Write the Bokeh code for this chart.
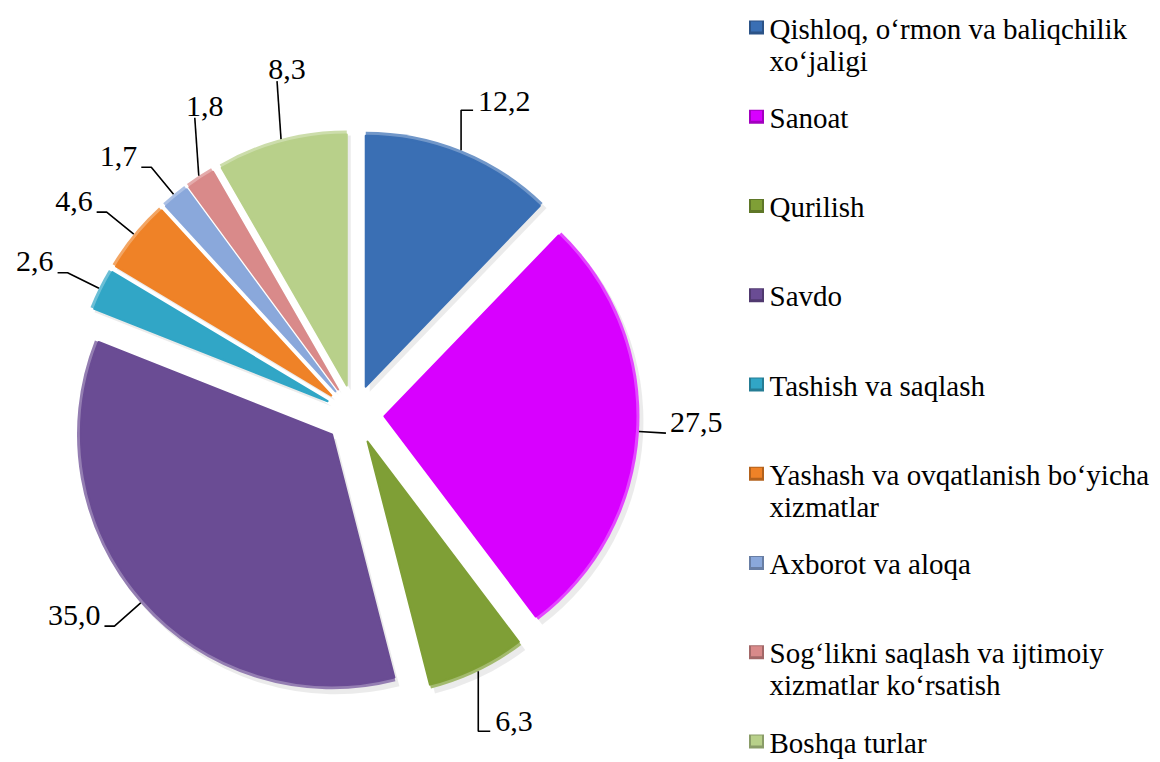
import math
from bokeh.plotting import figure
from bokeh.models import Range1d, ColumnDataSource
from bokeh.core.properties import value
from bokeh.embed import file_html
from bokeh.resources import INLINE

# ---- data ----
categories = [
    "Qishloq, o‘rmon va baliqchilik xo‘jaligi",
    "Sanoat",
    "Qurilish",
    "Savdo",
    "Tashish va saqlash",
    "Yashash va ovqatlanish bo‘yicha xizmatlar",
    "Axborot va aloqa",
    "Sog‘likni saqlash va ijtimoiy xizmatlar ko‘rsatish",
    "Boshqa turlar",
]
legend_lines = [
    ["Qishloq, o‘rmon va baliqchilik", "xo‘jaligi"],
    ["Sanoat"],
    ["Qurilish"],
    ["Savdo"],
    ["Tashish va saqlash"],
    ["Yashash va ovqatlanish bo‘yicha", "xizmatlar"],
    ["Axborot va aloqa"],
    ["Sog‘likni saqlash va ijtimoiy", "xizmatlar ko‘rsatish"],
    ["Boshqa turlar"],
]
values = [12.2, 27.5, 6.3, 35.0, 2.6, 4.6, 1.7, 1.8, 8.3]
colors = ["#3A6FB4", "#D800FF", "#7F9F36", "#6A4C94", "#31A6C6",
          "#EF8227", "#8AA8DB", "#D98A8A", "#B8D08A"]

# ---- layout (pixel space of the page) ----
W, H = 1160, 762
CX, CY = 354, 414
R = 255
EXPLODE = 30
FONT = "Liberation Serif"


def Y(py):
    return H - py


def mix(c, other, t):
    c = c.lstrip("#"); o = other.lstrip("#")
    a = [int(c[i:i + 2], 16) for i in (0, 2, 4)]
    b = [int(o[i:i + 2], 16) for i in (0, 2, 4)]
    return "#" + "".join(f"{round(a[i] * (1 - t) + b[i] * t):02x}" for i in range(3))


p = figure(width=W, height=H, output_backend="svg", toolbar_location=None,
           x_range=Range1d(0, W), y_range=Range1d(0, H), min_border=0)
p.axis.visible = False
p.grid.visible = False
p.outline_line_color = None
p.background_fill_color = "white"

total = sum(values)
ax, ay, st, en, rim = [], [], [], [], []
lead_xs, lead_ys = [], []
lab_x, lab_y, lab_t, lab_align, lab_base = [], [], [], [], []
acc = 0.0
for v, c in zip(values, colors):
    t1 = acc / total * 2 * math.pi
    acc += v
    t2 = acc / total * 2 * math.pi
    mid = (t1 + t2) / 2
    dx, dy = math.sin(mid), -math.cos(mid)
    apx, apy = CX + EXPLODE * dx, CY + EXPLODE * dy
    ax.append(apx); ay.append(Y(apy))
    st.append(math.pi / 2 - t2); en.append(math.pi / 2 - t1)
    rim.append(mix(c, "#ffffff", 0.28))
    # value label with leader line
    arx, ary = apx + R * dx, apy + R * dy
    txt = f"{v:.1f}".replace(".", ",")
    if abs(dy) > 0.8 and (dx >= 0 or dy > 0):
        # near top/bottom on the right: vertical leader then elbow to the right
        L = 40 if dy < 0 else 60
        ex, ey = arx, ary + L * (1 if dy > 0 else -1)
        fx = ex + 12
        pts = [(arx, ary), (ex, ey), (fx, ey)]
        tx, ty, al, bl = fx + 5, ey - (10 if dy > 0 else 9), "left", "middle"
    elif abs(dy) > 0.8:
        # near top on the left: vertical leader, text above
        L = 58
        ex, ey = arx - 4, ary - L
        pts = [(arx, ary), (ex, ey)]
        tx, ty, al, bl = ex + 10, ey - 2, "center", "bottom"
    else:
        side = 1 if dx >= 0 else -1
        horizontal = abs(dy) < 0.15
        L = 27 if horizontal else 35
        ex, ey = arx + L * dx, ary + L * dy
        elb = 0 if horizontal else 10
        fx = ex + side * elb
        pts = [(arx, ary), (ex, ey), (fx, ey)]
        tx, ty, al, bl = fx + side * 4, ey - 11, ("left" if side > 0 else "right"), "middle"
    lead_xs.append([q[0] for q in pts]); lead_ys.append([Y(q[1]) for q in pts])
    lab_x.append(tx); lab_y.append(Y(ty)); lab_t.append(txt)
    lab_align.append(al); lab_base.append(bl)

src = ColumnDataSource(dict(x=ax, y=ay, s=st, e=en, c=colors, rim=rim,
                            sx=[x + 4 for x in ax], sy=[y - 5 for y in ay]))

# soft shadow
p.wedge(x="sx", y="sy", radius=R, start_angle="s", end_angle="e", source=src,
        fill_color="#000000", fill_alpha=0.08, line_color=None)
# lighter bevel rim
p.wedge(x="x", y="y", radius=R, start_angle="s", end_angle="e", source=src,
        fill_color="rim", line_color=None)
# main face
p.wedge(x="x", y="y", radius=R - 4, start_angle="s", end_angle="e", source=src,
        fill_color="c", line_color="c", line_width=2, line_join="round")

# leader lines and value labels
p.multi_line(xs=lead_xs, ys=lead_ys, line_color="black", line_width=1.6)
for i in range(len(values)):
    p.text(x=[lab_x[i]], y=[lab_y[i]], text=[lab_t[i]], text_align=lab_align[i],
           text_baseline=lab_base[i], text_font=value(FONT), text_font_size="30px",
           text_color="black")

# legend
LEG_X, LEG_Y0, LEG_STEP, LINE_H = 756, 28, 89.25, 32
lx, ly, ltx, lty, ltt = [], [], [], [], []
for i, lines in enumerate(legend_lines):
    cy = LEG_Y0 + i * LEG_STEP
    lx.append(LEG_X); ly.append(Y(cy - 1))
    for j, ln in enumerate(lines):
        ltx.append(769); lty.append(Y(cy + j * LINE_H)); ltt.append(ln)
p.rect(x=lx, y=ly, width=15, height=14, fill_color=[mix(c, "#000000", 0.25) for c in colors],
       line_color=None)
p.rect(x=lx, y=[y + 1 for y in ly], width=11, height=10, fill_color=colors, line_color=None)
p.text(x=ltx, y=lty, text=ltt, text_align="left", text_baseline="middle",
       text_font=value(FONT), text_font_size="29px", text_color="black")

open("out.html", "w").write(file_html(p, INLINE))
